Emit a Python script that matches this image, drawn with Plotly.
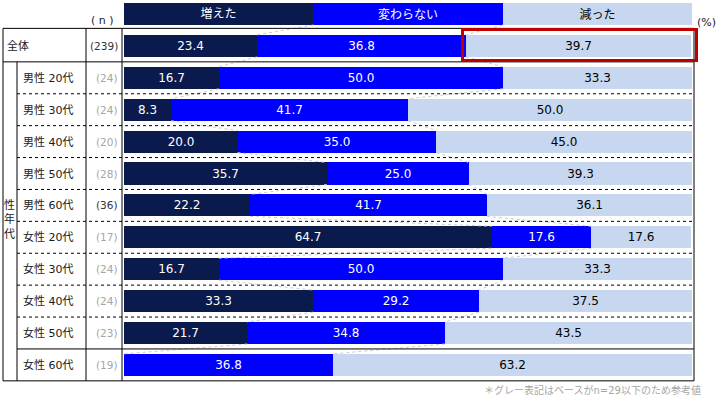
import plotly.graph_objects as go

# ---------------- data ----------------
categories = ["全体", "男性 20代", "男性 30代", "男性 40代", "男性 50代", "男性 60代",
              "女性 20代", "女性 30代", "女性 40代", "女性 50代", "女性 60代"]
n_values = [239, 24, 24, 20, 28, 36, 17, 24, 24, 23, 19]
series_names = ["増えた", "変わらない", "減った"]
increased = [23.4, 16.7, 8.3, 20.0, 35.7, 22.2, 64.7, 16.7, 33.3, 21.7, 0.0]
unchanged = [36.8, 50.0, 41.7, 35.0, 25.0, 41.7, 17.6, 50.0, 29.2, 34.8, 36.8]
decreased = [39.7, 33.3, 50.0, 45.0, 39.3, 36.1, 17.6, 33.3, 37.5, 43.5, 63.2]
group_label = "性年代"
note_text = "＊グレー表記はベースがn=29以下のため参考値"
n_threshold = 29

# ---------------- styles / geometry ----------------
colors = ["#0B1A4D", "#0000FF", "#C6D7EF"]
text_colors = ["#FFFFFF", "#FFFFFF", "#000000"]
W, H = 717, 397
X0PX, XPX_PER = 124, 5.68      # pixel of value 0, pixels per percent
ROW0PX, PITCH = 14, 31.9       # pixel centre of header row, row pitch
BAR_W = 0.69
FONT = "DejaVu Sans, Noto Sans CJK JP, sans-serif"


def xd(p):
    return (p - X0PX) / XPX_PER


def yd(p):
    return (p - ROW0PX) / PITCH


series = [increased, unchanged, decreased]
rows = list(range(1, len(categories) + 1))
ys = [0] + rows

fig = go.Figure()
for i, (name, vals) in enumerate(zip(series_names, series)):
    xs = [100.0 / len(series_names)] + vals
    texts = [name] + [f"{v:.1f}" if v > 0 else "" for v in vals]
    fig.add_trace(go.Bar(
        y=ys, x=xs, orientation="h", name=name, width=BAR_W,
        marker=dict(color=colors[i], line=dict(width=0)),
        text=texts, texttemplate="%{text}", textposition="inside",
        insidetextanchor="middle", textangle=0, constraintext="none",
        insidetextfont=dict(color=text_colors[i], size=12, family=FONT),
        hoverinfo="skip", showlegend=False,
    ))

# series (connector) lines between adjacent bars
all_rows_vals = [[100.0 / 3] * 3] + [list(t) for t in zip(increased, unchanged, decreased)]
cums = []
for v in all_rows_vals:
    c, acc = [], 0.0
    for x in v[:-1]:
        acc += x
        c.append(acc)
    cums.append(c)
lx, ly = [], []
for k in range(len(ys) - 1):
    for j in range(len(cums[k])):
        lx += [cums[k][j], cums[k + 1][j], None]
        ly += [ys[k] + BAR_W / 2, ys[k + 1] - BAR_W / 2, None]
fig.add_trace(go.Scatter(x=lx, y=ly, mode="lines",
                         line=dict(color="#CCCCCC", width=1, dash="dot"),
                         hoverinfo="skip", showlegend=False))

# ---------------- table lines ----------------
shapes = []
xl, xg, xn, xc, xr = xd(3), xd(17), xd(86), xd(122), xd(694)
last = rows[-1]


def hline(y, x0, x1, dash="solid"):
    shapes.append(dict(type="line", xref="x", yref="y", x0=x0, x1=x1, y0=y, y1=y,
                       line=dict(color="#000000", width=1, dash=dash), layer="above"))


def vline(x, y0, y1):
    shapes.append(dict(type="line", xref="x", yref="y", x0=x, x1=x, y0=y0, y1=y1,
                       line=dict(color="#000000", width=1), layer="above"))


hline(0.45, xl, xr)
hline(1.5, xl, xr)
for r in rows[1:-2]:
    hline(r + 0.5, xg, xr, dash="dot")
hline(last - 0.5, xg, xr)
hline(last + 0.5, xl, xr)
vline(xl, 0.45, last + 0.5)
vline(xg, 1.5, last + 0.5)
vline(xn, 0.45, last + 0.5)
vline(xc, 0.45, last + 0.5)
vline(xr, 0.45, last + 0.5)

# highlight box around 全体 / 減った
shapes.append(dict(type="rect", xref="x", yref="y",
                   x0=cums[1][1] - 0.6, x1=xd(696.5), y0=yd(29.5), y1=yd(60.5),
                   line=dict(color="#C00000", width=3), layer="above"))

# ---------------- annotations ----------------
ann = []
for r, cat, n in zip(rows, categories, n_values):
    ann.append(dict(x=xd(5) if r == 1 else xd(21), y=r, text=cat, xanchor="left",
                    showarrow=False, font=dict(size=11, color="#1A1A1A", family=FONT)))
    ann.append(dict(x=xd(119.5), y=r, text=f"({n})", xanchor="right", showarrow=False,
                    font=dict(size=10.5, color="#A6A6A6" if n <= n_threshold else "#333333",
                              family=FONT)))
ann.append(dict(x=xd(9.5), y=yd(219), text="<br>".join(group_label), showarrow=False,
                font=dict(size=11, color="#1A1A1A", family=FONT)))
ann.append(dict(x=xd(102), y=yd(20), text="( n )", showarrow=False,
                font=dict(size=11, color="#1A1A1A", family=FONT)))
ann.append(dict(x=xd(706), y=yd(22), text="(%)", showarrow=False,
                font=dict(size=11, color="#1A1A1A", family=FONT)))
ann.append(dict(x=xd(703), y=yd(390), text=note_text, xanchor="right", showarrow=False,
                font=dict(size=10, color="#A6A6A6", family=FONT)))

fig.update_layout(
    width=W, height=H, margin=dict(l=0, r=0, t=0, b=0),
    paper_bgcolor="#FFFFFF", plot_bgcolor="#FFFFFF",
    barmode="stack", bargap=0, showlegend=False,
    xaxis=dict(range=[xd(0), xd(W)], visible=False, fixedrange=True),
    yaxis=dict(range=[yd(H), yd(0)], visible=False, fixedrange=True),
    shapes=shapes, annotations=ann,
    font=dict(family=FONT),
)

fig.write_html("out.html", config={"displayModeBar": False},
               post_script="document.body.style.margin='0';document.body.style.overflow='hidden';")
